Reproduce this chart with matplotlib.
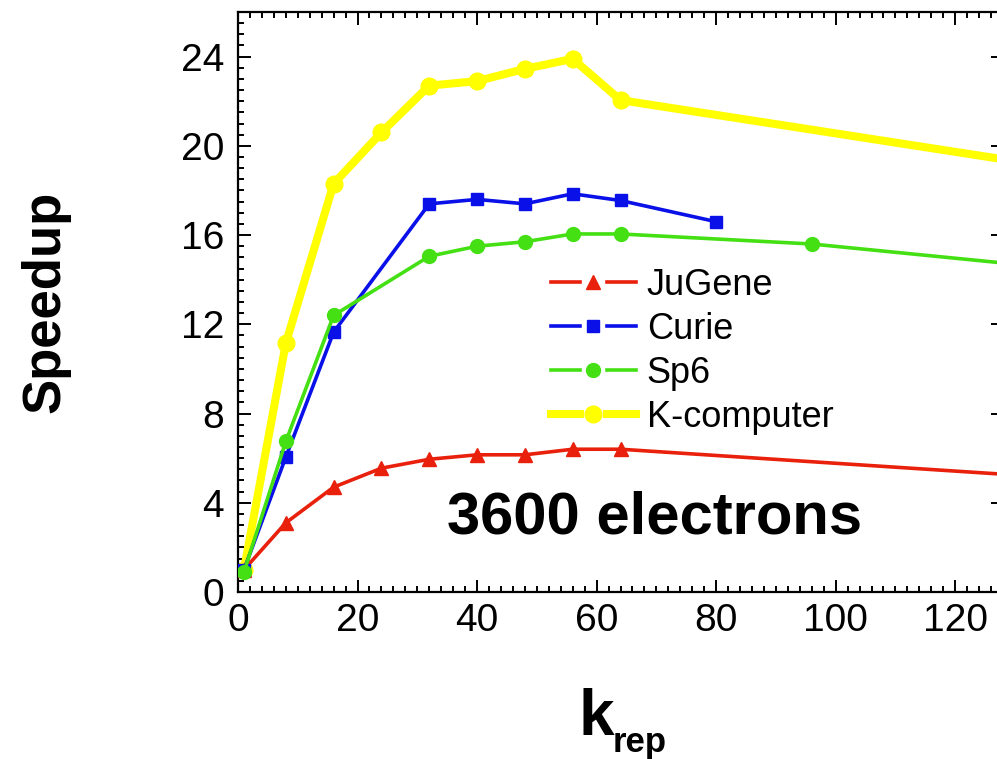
import matplotlib
matplotlib.use("Agg")
import matplotlib.pyplot as plt
from matplotlib.ticker import MultipleLocator
from matplotlib.legend_handler import HandlerLine2D
from matplotlib.lines import Line2D

plt.rcParams['font.family'] = ['Liberation Sans', 'DejaVu Sans']

# Data
jugene_x = [1, 8, 16, 24, 32, 40, 48, 56, 64, 128]
jugene_y = [1.0, 3.1, 4.7, 5.55, 5.95, 6.15, 6.15, 6.4, 6.4, 5.28]

curie_x = [1, 8, 16, 32, 40, 48, 56, 64, 80]
curie_y = [1.0, 6.05, 11.65, 17.4, 17.6, 17.4, 17.85, 17.55, 16.6]

sp6_x = [1, 8, 16, 32, 40, 48, 56, 64, 96, 128]
sp6_y = [0.9, 6.75, 12.4, 15.05, 15.5, 15.7, 16.05, 16.05, 15.6, 14.75]

kc_x = [1, 8, 16, 24, 32, 40, 48, 56, 64, 128]
kc_y = [1.0, 11.15, 18.3, 20.6, 22.7, 22.9, 23.45, 23.9, 22.05, 19.4]

labels = ["JuGene", "Curie", "Sp6", "K-computer"]


class GapHandler(HandlerLine2D):
    """Legend handle: line - marker - line with small gaps around the marker."""
    def create_artists(self, legend, orig_handle, xdescent, ydescent, width, height,
                       fontsize, trans):
        y = height / 2.0 - ydescent
        x0 = -xdescent
        x1 = x0 + width
        mid = (x0 + x1) / 2.0
        gap = 0.16 * width
        left = Line2D([x0, mid - gap], [y, y])
        right = Line2D([mid + gap, x1], [y, y])
        mk = Line2D([mid], [y])
        for a in (left, right):
            a.update_from(orig_handle)
            a.set_marker('None')
            a.set_transform(trans)
        mk.update_from(orig_handle)
        mk.set_linestyle('None')
        mk.set_transform(trans)
        return [left, right, mk]


W, H = 997, 759
fig = plt.figure(figsize=(W / 100, H / 100), dpi=100)
ax = fig.add_axes([238 / W, 1 - 592 / H, (1003 - 238) / W, (592 - 12) / H])

l1, = ax.plot(jugene_x, jugene_y, color='#E8200C', lw=2.6, marker='^', ms=10,
              markevery=slice(0, len(jugene_x) - 1), label=labels[0], zorder=3)
l2, = ax.plot(curie_x, curie_y, color='#0A10E8', lw=2.6, marker='s', ms=8.5,
              label=labels[1], zorder=3)
l3, = ax.plot(sp6_x, sp6_y, color='#44E014', lw=2.6, marker='o', ms=10,
              markevery=slice(0, len(sp6_x) - 1), label=labels[2], zorder=3)
l4, = ax.plot(kc_x, kc_y, color='#FFFF00', lw=5.8, marker='o', ms=12,
              markevery=slice(0, len(kc_x) - 1), label=labels[3], zorder=2)

ax.set_xlim(0, 128)
ax.set_ylim(0, 26)
ax.xaxis.set_major_locator(MultipleLocator(20))
ax.xaxis.set_minor_locator(MultipleLocator(2))
ax.yaxis.set_major_locator(MultipleLocator(4))
ax.yaxis.set_minor_locator(MultipleLocator(0.5))

for s in ax.spines.values():
    s.set_linewidth(1.6)
ax.tick_params(which='both', direction='in', top=True, right=True, width=1.4)
ax.tick_params(which='major', length=9)
ax.tick_params(which='minor', length=4.5)
ax.tick_params(axis='x', which='major', labelsize=28, pad=8)
ax.tick_params(axis='y', which='major', labelsize=28, pad=10)

fig.text(45 / W, 1 - 302 / H, "Speedup", rotation=90, fontsize=38, fontweight='bold',
         ha='center', va='center')
fig.text(596 / W, 1 - 735 / H, "k", fontsize=46, fontweight='bold', ha='center',
         va='baseline')
fig.text(613 / W, 1 - 752 / H, "rep", fontsize=25, fontweight='bold', ha='left',
         va='baseline')

ax.text(655 / W, 1 - 518 / H, "3600 electrons", transform=fig.transFigure, fontsize=43,
        fontweight='bold', ha='center', va='center')

hm = {h: GapHandler() for h in (l1, l2, l3, l4)}
leg = fig.legend(handles=[l1, l2, l3, l4], labels=labels, handler_map=hm,
                 loc='upper left', bbox_to_anchor=(551 / W, 1 - 268 / H), frameon=False,
                 fontsize=26, handlelength=2.35, handletextpad=0.3, labelspacing=0.25,
                 borderpad=0, borderaxespad=0)

fig.savefig("out.png", dpi=100)
